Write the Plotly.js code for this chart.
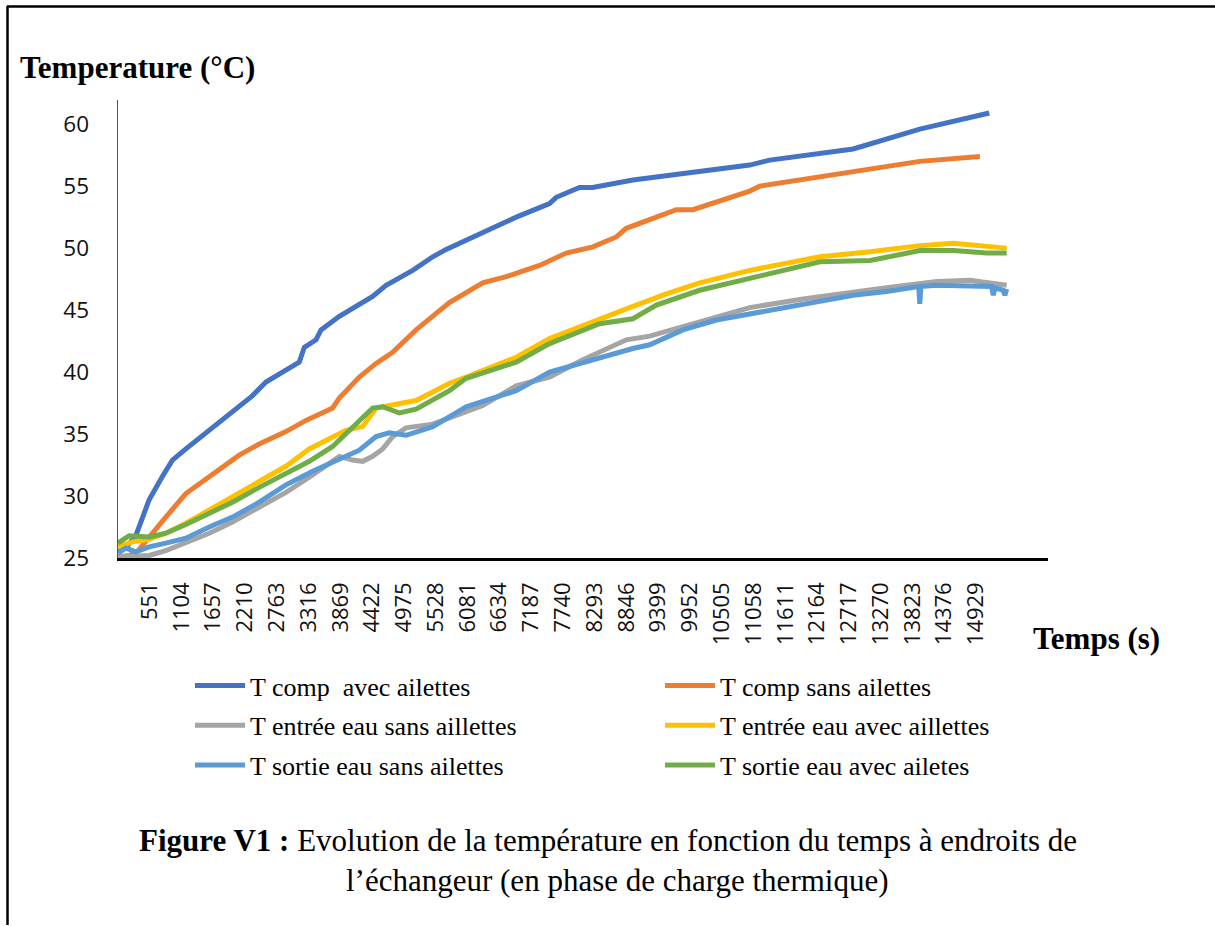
<!DOCTYPE html>
<html>
<head>
<meta charset="utf-8">
<script src="https://cdn.plot.ly/plotly-3.0.1.min.js"></script>
<style>
  html, body { margin: 0; padding: 0; background: #fff; }
  #chart { width: 1215px; height: 926px; }
</style>
</head>
<body>
<div id="chart"></div>
<script>
// ---- Data (time in seconds, temperature in °C) ----
const seriesNames = [
  "T comp  avec ailettes",
  "T comp sans ailettes",
  "T entrée eau sans aillettes",
  "T entrée eau avec aillettes",
  "T sortie eau sans ailettes",
  "T sortie eau avec ailetes"
];

const tCompAvec = [0, 150, 310, 542, 774, 947, 1181, 1587, 1992, 2341, 2574, 2922, 3154, 3241, 3445, 3532, 3851, 4430, 4664, 5127, 5476, 5709, 6346, 6928, 7508, 7624, 8030, 8257, 8958, 10120, 10990, 11338, 12790, 13950, 15158];
const vCompAvec = [25.5, 25.9, 26.8, 29.7, 31.6, 32.9, 33.8, 35.3, 36.9, 38.1, 39.2, 40.2, 40.8, 42.0, 42.6, 43.4, 44.5, 46.1, 47.0, 48.2, 49.3, 49.9, 51.3, 52.5, 53.6, 54.1, 54.9, 54.9, 55.5, 56.2, 56.7, 57.1, 58.0, 59.6, 60.9];

const tCompSans = [0, 200, 350, 542, 832, 1181, 1529, 2109, 2457, 2922, 3271, 3734, 3851, 4199, 4490, 4779, 5186, 5476, 5766, 6346, 6754, 7334, 7799, 8262, 8669, 8844, 9250, 9540, 9714, 10003, 10411, 10990, 11165, 12790, 13950, 14995];
const vCompSans = [25.1, 25.2, 25.6, 26.7, 28.3, 30.2, 31.4, 33.3, 34.2, 35.2, 36.1, 37.1, 37.9, 39.6, 40.7, 41.6, 43.4, 44.5, 45.6, 47.2, 47.7, 48.6, 49.6, 50.1, 50.9, 51.6, 52.3, 52.7, 53.1, 53.1, 53.7, 54.6, 55.0, 56.2, 57.0, 57.4];

const tEntreeSans = [0, 251, 542, 832, 1181, 1587, 1992, 2457, 2922, 3386, 3851, 4082, 4256, 4430, 4605, 4779, 5012, 5476, 5766, 6346, 6928, 7508, 8088, 8495, 8844, 9250, 9829, 10411, 10990, 11919, 12790, 13371, 14242, 14822, 15461];
const vEntreeSans = [25.1, 25.1, 25.2, 25.6, 26.2, 27.0, 27.9, 29.1, 30.3, 31.7, 33.2, 32.9, 32.8, 33.2, 33.8, 34.8, 35.5, 35.8, 36.3, 37.3, 38.9, 39.6, 41.0, 41.9, 42.6, 42.9, 43.7, 44.5, 45.2, 45.9, 46.5, 46.8, 47.3, 47.4, 47.0];

const tEntreeAvec = [0, 251, 542, 832, 1181, 1587, 1992, 2457, 2922, 3328, 3734, 3967, 4256, 4490, 4721, 5186, 5476, 5766, 6057, 6928, 7508, 8379, 8958, 9540, 10120, 10990, 12210, 13086, 13950, 14532, 14995, 15461];
const vEntreeAvec = [25.9, 26.3, 26.5, 27.0, 27.8, 28.9, 29.9, 31.2, 32.4, 33.8, 34.8, 35.3, 35.6, 37.1, 37.3, 37.7, 38.4, 39.1, 39.6, 41.2, 42.7, 44.3, 45.3, 46.3, 47.2, 48.2, 49.3, 49.7, 50.2, 50.4, 50.2, 50.0];

const tSortieSans = [0, 136, 310, 542, 832, 1181, 1587, 1992, 2457, 2922, 3386, 3851, 4199, 4490, 4721, 5012, 5476, 6057, 6928, 7508, 8379, 8958, 9250, 9829, 10411, 10990, 11919, 12790, 13371, 13930, 13950, 13970, 14242, 14939, 15200, 15228, 15260, 15402, 15430, 15461];
const vSortieSans = [25.4, 25.8, 25.5, 25.9, 26.2, 26.6, 27.5, 28.3, 29.5, 30.9, 32.0, 33.0, 33.7, 34.8, 35.1, 34.9, 35.6, 37.2, 38.5, 40.0, 41.2, 41.9, 42.2, 43.4, 44.2, 44.7, 45.5, 46.2, 46.5, 46.9, 45.5, 46.9, 47.0, 46.9, 46.9, 46.2, 46.8, 46.6, 46.2, 46.7];

const tSortieAvec = [0, 193, 542, 832, 1181, 1587, 1992, 2457, 2922, 3328, 3734, 4082, 4430, 4605, 4895, 5186, 5476, 5766, 6057, 6928, 7508, 8379, 8958, 9366, 10120, 10990, 12210, 13086, 13950, 14532, 15113, 15461];
const vSortieAvec = [26.2, 26.8, 26.7, 27.0, 27.7, 28.6, 29.5, 30.7, 31.8, 32.8, 34.0, 35.6, 37.1, 37.2, 36.7, 37.0, 37.8, 38.5, 39.5, 40.8, 42.3, 43.9, 44.3, 45.4, 46.6, 47.6, 48.9, 49.0, 49.8, 49.8, 49.6, 49.6];

const xTickLabels = ["551", "1104", "1657", "2210", "2763", "3316", "3869", "4422", "4975", "5528", "6081", "6634", "7187", "7740", "8293", "8846", "9399", "9952", "10505", "11058", "11611", "12164", "12717", "13270", "13823", "14376", "14929"];
const yTickValues = [25, 30, 35, 40, 45, 50, 55, 60];

const colors = ["#4472C4", "#ED7D31", "#A5A5A5", "#FFC000", "#5B9BD5", "#70AD47"];
const xs = [tCompAvec, tCompSans, tEntreeSans, tEntreeAvec, tSortieSans, tSortieAvec];
const ys = [vCompAvec, vCompSans, vEntreeSans, vEntreeAvec, vSortieSans, vSortieAvec];

// ---- Geometry helpers (pixel -> paper) ----
const W = 1215, H = 926;
const L = 118, R = 1048, T = 100, B = 558;
const px = x => (x - L) / (R - L);
const py = y => (B - y) / (B - T);

const traces = seriesNames.map((name, i) => ({
  type: "scatter",
  mode: "lines",
  name: name,
  x: xs[i],
  y: ys[i],
  line: { color: colors[i], width: 5 },
  legend: (i % 2 === 0) ? "legend" : "legend2",
  legendgroup: "g" + i,
  hoverinfo: "skip"
}));

const legendFont = { family: "Liberation Serif, 'Times New Roman', serif", size: 26, color: "#000" };

const layout = {
  width: W, height: H,
  margin: { l: L, r: W - R, t: T, b: H - B, pad: 0 },
  paper_bgcolor: "#fff",
  plot_bgcolor: "#fff",
  showlegend: true,
  xaxis: {
    range: [0, 16180],
    tickmode: "array",
    tickvals: xTickLabels.map(Number),
    ticktext: xTickLabels,
    tickangle: -90,
    ticks: "",
    ticklabelstandoff: 13,
    showgrid: false,
    zeroline: false,
    showline: true,
    linecolor: "#000",
    linewidth: 2.5,
    tickfont: { family: "Open Sans, sans-serif", size: 22, color: "#111" }
  },
  yaxis: {
    range: [25, 61.95],
    tickmode: "array",
    tickvals: yTickValues,
    ticks: "",
    ticklabelstandoff: 23,
    showgrid: false,
    zeroline: false,
    showline: true,
    linecolor: "#555",
    linewidth: 1.5,
    tickfont: { family: "Open Sans, sans-serif", size: 22.5, color: "#111" }
  },
  legend: {
    x: px(190), y: py(662), xanchor: "left", yanchor: "top",
    orientation: "v", bgcolor: "rgba(0,0,0,0)",
    font: legendFont, traceorder: "grouped", tracegroupgap: 3, itemwidth: 50
  },
  legend2: {
    x: px(660), y: py(662), xanchor: "left", yanchor: "top",
    orientation: "v", bgcolor: "rgba(0,0,0,0)",
    font: legendFont, traceorder: "grouped", tracegroupgap: 3, itemwidth: 50
  },
  annotations: [
    { text: "<b>Temperature (°C)</b>", xref: "paper", yref: "paper", x: px(18), y: py(67),
      xanchor: "left", yanchor: "middle", showarrow: false,
      font: { family: "Liberation Serif, 'Times New Roman', serif", size: 31, color: "#000" } },
    { text: "<b>Temps (s)</b>", xref: "paper", yref: "paper", x: px(1031), y: py(638),
      xanchor: "left", yanchor: "middle", showarrow: false,
      font: { family: "Liberation Serif, 'Times New Roman', serif", size: 31, color: "#000" } },
    { text: "<b>Figure V1 :</b> Evolution de la température en fonction du temps à endroits de",
      xref: "paper", yref: "paper", x: px(608), y: py(840),
      xanchor: "center", yanchor: "middle", showarrow: false,
      font: { family: "Liberation Serif, 'Times New Roman', serif", size: 31, color: "#000" } },
    { text: "l’échangeur (en phase de charge thermique)",
      xref: "paper", yref: "paper", x: px(617), y: py(880),
      xanchor: "center", yanchor: "middle", showarrow: false,
      font: { family: "Liberation Serif, 'Times New Roman', serif", size: 31, color: "#000" } }
  ],
  shapes: [
    { type: "line", xref: "paper", yref: "paper", x0: px(7), x1: px(1215), y0: py(6.5), y1: py(6.5),
      line: { color: "#000", width: 2.5 } },
    { type: "line", xref: "paper", yref: "paper", x0: px(7.5), x1: px(7.5), y0: py(6), y1: py(925),
      line: { color: "#000", width: 2.5 } }
  ]
};

Plotly.newPlot("chart", traces, layout, { displayModeBar: false, staticPlot: true });
</script>
</body>
</html>
